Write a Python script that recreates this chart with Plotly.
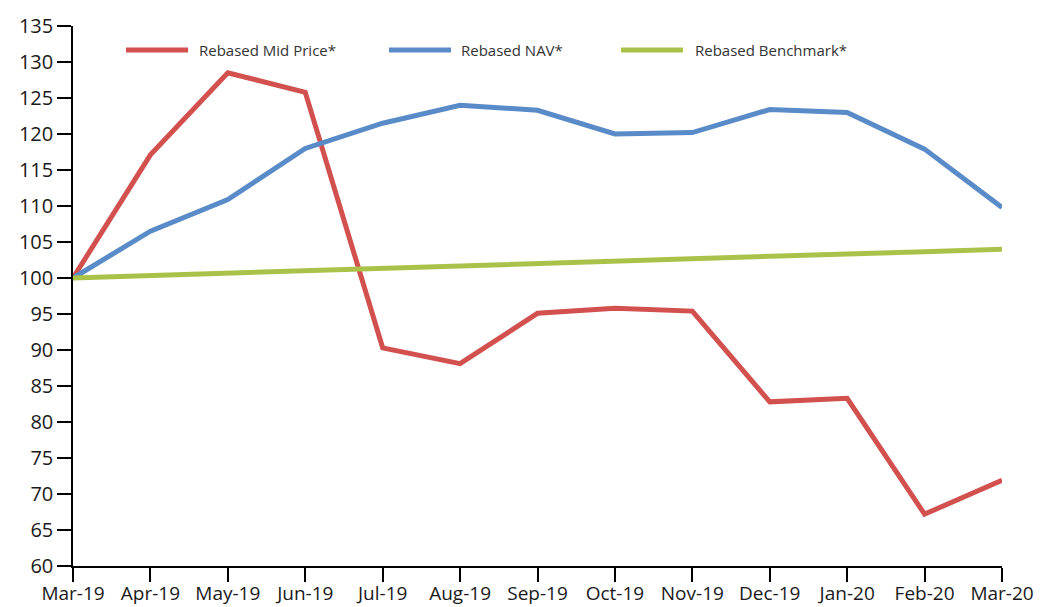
import plotly.graph_objects as go

months = ["Mar-19", "Apr-19", "May-19", "Jun-19", "Jul-19", "Aug-19", "Sep-19",
          "Oct-19", "Nov-19", "Dec-19", "Jan-20", "Feb-20", "Mar-20"]
mid_price = [100, 117.1, 128.5, 125.8, 90.3, 88.1, 95.1, 95.8, 95.4, 82.8, 83.3, 67.2, 71.9]
nav = [100, 106.5, 110.9, 118.0, 121.5, 124.0, 123.3, 120.0, 120.2, 123.4, 123.0, 117.9, 109.8]
benchmark = [100, 100.35, 100.7, 101.0, 101.35, 101.7, 102.0, 102.3, 102.65, 103.0, 103.35, 103.65, 104.0]
series_names = ["Rebased Mid Price*", "Rebased NAV*", "Rebased Benchmark*"]
colors = ["#d2504d", "#5a8bc9", "#abc24a"]
y_ticks = list(range(60, 136, 5))

W, H = 1043, 607
ML, MR, MT, MB = 73, 41, 26, 41
PW, PH = W - ML - MR, H - MT - MB

def px_x(p):
    return (p - ML) / PW

def px_y(p):
    return (H - MB - p) / PH

fig = go.Figure()
for name, vals, col in zip(series_names, [mid_price, nav, benchmark], colors):
    fig.add_trace(go.Scatter(x=months, y=vals, mode="lines", name=name,
                             line=dict(color=col, width=5), showlegend=False,
                             cliponaxis=False, hoverinfo="skip"))

# manual legend (long line samples as in the reference)
legend_pos = [(126, 188, 197), (389, 451, 459), (621, 683, 693)]
for (x0, x1, xt), name, col in zip(legend_pos, series_names, colors):
    fig.add_shape(type="line", xref="paper", yref="paper",
                  x0=px_x(x0), x1=px_x(x1), y0=px_y(50), y1=px_y(50),
                  line=dict(color=col, width=5))
    fig.add_annotation(x=px_x(xt), y=px_y(50), xref="paper", yref="paper",
                       text=name, showarrow=False, xanchor="left", yanchor="middle",
                       font=dict(size=15, color="#333333", family="Open Sans"))

fig.update_layout(
    width=W, height=H,
    margin=dict(l=ML, r=MR, t=MT, b=MB, autoexpand=False),
    paper_bgcolor="white", plot_bgcolor="white",
    font=dict(family="Open Sans", size=20, color="#1a1a1a"),
    xaxis=dict(type="category", range=[0, 12], showgrid=False, zeroline=False,
               automargin=False, ticklabelstandoff=-5,
               showline=True, linecolor="black", linewidth=1.5,
               ticks="outside", ticklen=14, tickwidth=1.5, tickcolor="black",
               tickfont=dict(size=19)),
    yaxis=dict(range=[60, 135], tickvals=y_ticks, showgrid=False, zeroline=False,
               automargin=False,
               showline=True, linecolor="black", linewidth=1.5,
               ticks="outside", ticklen=14, tickwidth=1.5, tickcolor="black",
               tickfont=dict(size=20)),
)

fig.write_html("out.html", config={"displayModeBar": False},
               post_script="document.body.style.margin='0';document.body.style.overflow='hidden';")
